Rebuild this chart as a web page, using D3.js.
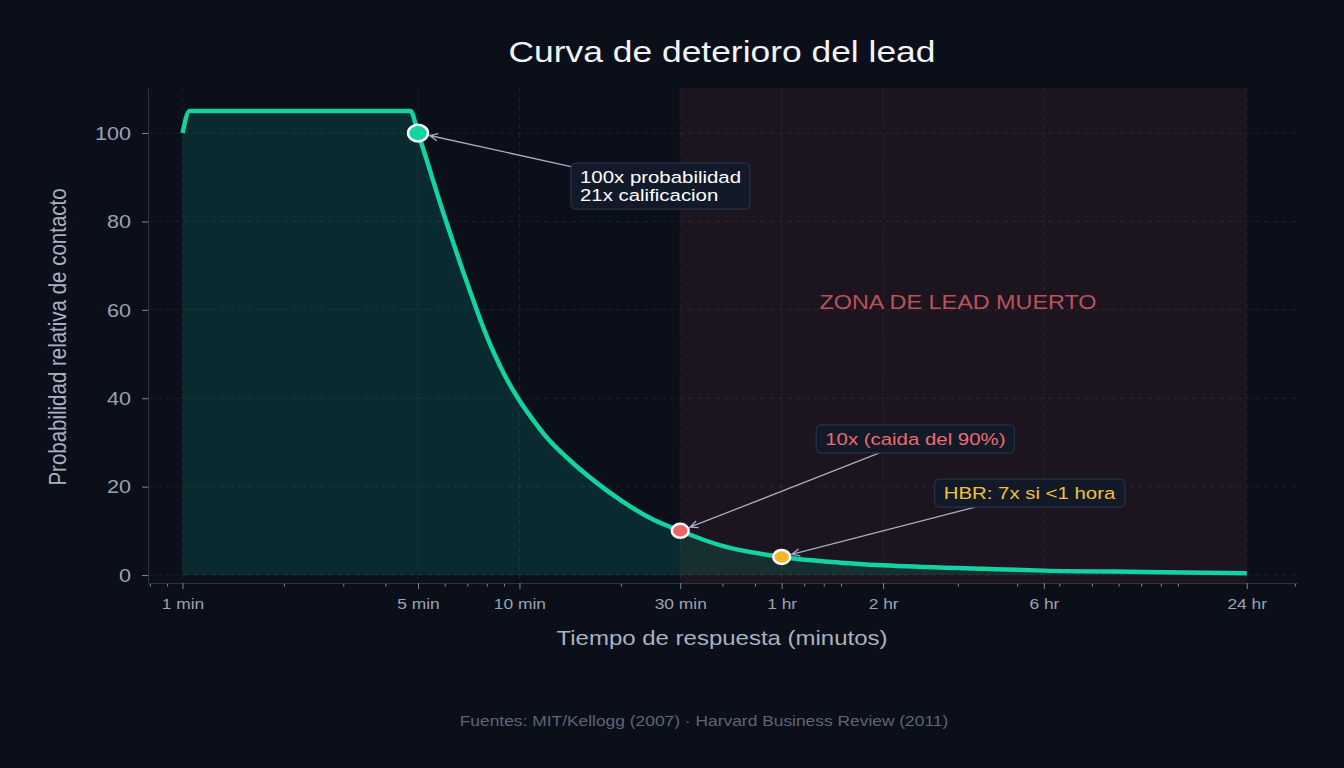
<!DOCTYPE html>
<html>
<head>
<meta charset="utf-8">
<script src="https://cdn.jsdelivr.net/npm/d3@7"></script>
<style>
    html, body { margin: 0; padding: 0; background: #0b0f19; }
    svg { display: block; font-family: "Liberation Sans", Arial, Helvetica, sans-serif; }
</style>
</head>
<body>
<svg width="1344" height="768"></svg>
<script>
"use strict";

// response time (minutes) and relative contact probability
const minutes = [1, 1.05, 4.75, 5, 6, 7, 8, 9, 10, 11, 12, 14, 17, 20, 25, 30, 40, 60, 90, 120, 240, 360, 720, 1440];
const probability = [100, 105, 105, 100, 81, 66, 54, 45.5, 39.5, 35, 31.3, 26.2, 20.8, 16.9, 12.5, 10, 6.6, 4.1, 2.8, 2.2, 1.4, 1.0, 0.7, 0.4];

const tickMinutes = [1, 5, 10, 30, 60, 120, 360, 1440];
const tickLabels = ["1 min", "5 min", "10 min", "30 min", "1 hr", "2 hr", "6 hr", "24 hr"];
const yTicks = [0, 20, 40, 60, 80, 100];

// dead lead zone: from 30 min to 24 hr
const deadZone = [30, 1440];

// highlighted points and their notes
const noteMinutes = [5, 30, 60];
const noteValues = [100, 10, 4.1];
const noteTexts = [["100x probabilidad", "21x calificacion"], ["10x (caida del 90%)"], ["HBR: 7x si <1 hora"]];

const title = "Curva de deterioro del lead";
const xTitle = "Tiempo de respuesta (minutos)";
const yTitle = "Probabilidad relativa de contacto";
const zoneTitle = "ZONA DE LEAD MUERTO";
const sources = "Fuentes: MIT/Kellogg (2007) · Harvard Business Review (2011)";

// styles
const S = 1.2;   // the picture is stretched sideways, so is the text
const green = "#12d3a3";
const noteColors = ["#ffffff", "#f06a6c", "#f3c132"];
const markerFill = ["#12d3a3", "#f26464", "#f5b526"];
const markerR = [8.3, 7, 7];
const noteOffsets = [[162, 50], [145, -86], [162, -58]];

const svg = d3.select("svg"),
    width = 1344,
    height = 768,
    x = d3.scaleLog().domain([0.79, 2030]).range([148, 1297]),
    y = d3.scaleLinear().domain([-1.8, 110.2]).range([583, 88]),
    plotTop = y.range()[1],
    plotBottom = y.range()[0];

const data = minutes.map((m, i) => [m, probability[i]]);

function addText(parent, tx, ty, str, size, color, anchor) {
    return parent.append("text")
        .attr("transform", `translate(${tx},${ty}) scale(${S},1)`)
        .attr("font-size", size)
        .attr("fill", color)
        .attr("text-anchor", anchor || "start")
        .text(str);
}

svg.append("rect")
    .attr("width", width)
    .attr("height", height)
    .attr("fill", "#0b0f19");

// dead zone
svg.append("rect")
    .attr("x", x(deadZone[0]))
    .attr("y", plotTop)
    .attr("width", x(deadZone[1]) - x(deadZone[0]))
    .attr("height", plotBottom - plotTop)
    .attr("fill", "rgba(240,90,100,0.075)");

// grid
const grid = svg.append("g")
    .attr("stroke", "rgba(255,255,255,0.08)")
    .attr("stroke-dasharray", "5,4");
grid.selectAll(".gx").data(tickMinutes).enter().append("line")
    .attr("x1", d => x(d)).attr("x2", d => x(d))
    .attr("y1", plotTop).attr("y2", plotBottom);
grid.selectAll(".gy").data(yTicks).enter().append("line")
    .attr("x1", x.range()[0]).attr("x2", x.range()[1])
    .attr("y1", d => y(d)).attr("y2", d => y(d));

const curve = d3.curveMonotoneX;

// area under the curve
svg.append("path")
    .datum(data)
    .attr("fill", "rgba(0,214,180,0.14)")
    .attr("d", d3.area()
        .x(d => x(d[0]))
        .y0(y(0))
        .y1(d => y(d[1]))
        .curve(curve));

svg.append("text")
    .attr("transform", `translate(958,309) scale(${S},1)`)
    .attr("text-anchor", "middle")
    .attr("font-size", 19.5)
    .attr("fill", "#b9525a")
    .text(zoneTitle);

// axes
const minorTicks = x.ticks().filter(t => {
    const lg = Math.log10(t);
    return Math.abs(lg - Math.round(lg)) > 1e-6 && !tickMinutes.includes(t);
});

const xMinor = svg.append("g")
    .attr("transform", `translate(0,${plotBottom})`)
    .call(d3.axisBottom(x).tickValues(minorTicks).tickFormat("").tickSize(3.5).tickSizeOuter(0));
xMinor.select(".domain").remove();

const xAxis = svg.append("g")
    .attr("transform", `translate(0,${plotBottom})`)
    .call(d3.axisBottom(x).tickValues(tickMinutes).tickFormat((d, i) => tickLabels[i]).tickSize(6).tickSizeOuter(0));
xAxis.selectAll("text")
    .attr("y", null).attr("dy", null)
    .attr("transform", `translate(0,26) scale(${S},1)`)
    .attr("font-size", 14.5)
    .attr("fill", "#9aa3b4");

const yAxis = svg.append("g")
    .attr("transform", `translate(${x.range()[0]},0)`)
    .call(d3.axisLeft(y).tickValues(yTicks).tickSize(6).tickSizeOuter(0));
yAxis.selectAll("text")
    .attr("x", null).attr("dy", "0.35em")
    .attr("transform", `translate(-17,0) scale(${S},1)`)
    .attr("font-size", 18)
    .attr("fill", "#9aa3b4");

svg.selectAll(".domain").attr("stroke", "#2b3244");
svg.selectAll(".tick line").attr("stroke", "#7d8597");
xAxis.attr("font-family", null);
yAxis.attr("font-family", null);
xMinor.attr("font-family", null);

// curve
svg.append("path")
    .datum(data)
    .attr("fill", "none")
    .attr("stroke", green)
    .attr("stroke-width", 4.5)
    .attr("stroke-linejoin", "round")
    .attr("d", d3.line()
        .x(d => x(d[0]))
        .y(d => y(d[1]))
        .curve(curve));

const arrowLayer = svg.append("g");
const markerLayer = svg.append("g");
const boxLayer = svg.append("g");

noteMinutes.forEach((m, i) => {
    const px = x(m), py = y(noteValues[i]);

    // note box
    const g = boxLayer.append("g");
    const tg = g.append("g");
    const tx = px + noteOffsets[i][0], ty = py + noteOffsets[i][1];
    noteTexts[i].forEach((line, j) => addText(tg, tx, ty + j * 18, line, 17, noteColors[i]));
    const bb = tg.node().getBBox();
    const bx = bb.x - 9, by = bb.y - 4.5, bw = bb.width + 18, bh = bb.height + 9;
    g.insert("rect", ":first-child")
        .attr("x", bx).attr("y", by)
        .attr("width", bw).attr("height", bh)
        .attr("rx", 5)
        .attr("fill", "#121a2a")
        .attr("stroke", "#273145")
        .attr("stroke-width", 1.2);

    // arrow from the box edge to the point
    const cx = bx + bw / 2, cy = by + bh / 2;
    const dx = px - cx, dy = py - cy;
    const t = Math.min(Math.abs(bw / 2 / dx), Math.abs(bh / 2 / dy));
    const sx = cx + dx * t, sy = cy + dy * t;
    const len = Math.hypot(px - sx, py - sy);
    const ux = (px - sx) / len, uy = (py - sy) / len;
    const ex = px - ux * (markerR[i] * S + 2), ey = py - uy * (markerR[i] + 3);
    const head = 8, spread = 3.6;
    arrowLayer.append("path")
        .attr("fill", "none")
        .attr("stroke", "#a7acc4")
        .attr("stroke-width", 1.3)
        .attr("d", `M${sx},${sy}L${ex},${ey}` +
            `M${ex - ux * head - uy * spread},${ey - uy * head + ux * spread}L${ex},${ey}` +
            `L${ex - ux * head + uy * spread},${ey - uy * head - ux * spread}`);

    markerLayer.append("ellipse")
        .attr("cx", px).attr("cy", py)
        .attr("rx", markerR[i] * S).attr("ry", markerR[i])
        .attr("fill", markerFill[i])
        .attr("stroke", "#ffffff")
        .attr("stroke-width", 2.5);
});

// titles
addText(svg, 722, 62, title, 29.5, "#f2f4f8", "middle");
addText(svg, 722, 645, xTitle, 20, "#a9b1c1", "middle");
svg.append("text")
    .attr("transform", `translate(66,337) scale(${S},1) rotate(-90)`)
    .attr("text-anchor", "middle")
    .attr("font-size", 20.5)
    .attr("fill", "#a9b1c1")
    .text(yTitle);
addText(svg, 704, 726, sources, 14.5, "#5d6577", "middle");
</script>
</body>
</html>
